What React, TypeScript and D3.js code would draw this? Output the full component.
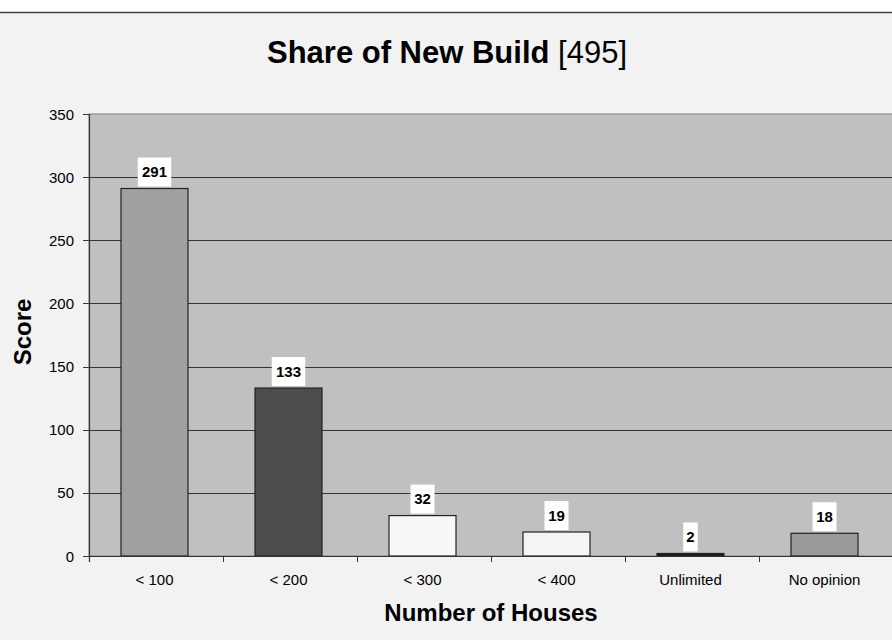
import React from "react";
import * as d3 from "d3";

const categories = ["< 100", "< 200", "< 300", "< 400", "Unlimited", "No opinion"];
const values = [291, 133, 32, 19, 2, 18];
const barColors = ["#a0a0a0", "#4d4d4d", "#f8f8f8", "#f4f4f4", "#1a1a1a", "#9a9a9a"];
const yTicks = [0, 50, 100, 150, 200, 250, 300, 350];

const W = 892, H = 640;
const left = 89, right = 893, top = 114, bottom = 556;

export default function App() {
  const x = d3.scaleBand<string>().domain(categories).range([left, right]).paddingInner(0.5).paddingOuter(0.25);
  const xb = d3.scaleBand<string>().domain(categories).range([left, right]);
  const y = d3.scaleLinear().domain([0, 350]).range([bottom, top]);
  const font = "Liberation Sans, Arial, sans-serif";
  return (
    <svg width={W} height={H} style={{ position: "absolute", left: 0, top: 0 }} fontFamily={font}>
      <rect x={0} y={0} width={W} height={H} fill="#ffffff" />
      <rect x={0} y={12} width={W} height={H - 12} fill="#f2f2f2" />
      <line x1={0} x2={W} y1={12.5} y2={12.5} stroke="#404040" strokeWidth={1.5} />
      <text x={447} y={63} textAnchor="middle" fontSize={31} fill="#000">
        <tspan fontWeight="bold">Share of New Build</tspan>
        <tspan> [495]</tspan>
      </text>
      <rect x={left} y={top} width={right - left} height={bottom - top} fill="#c0c0c0" stroke="#808080" strokeWidth={1} />
      {yTicks.map((t) => (
        <g key={t}>
          {t > 0 && t < 350 && <line x1={left} x2={right} y1={Math.round(y(t)) + 0.5} y2={Math.round(y(t)) + 0.5} stroke="#333" strokeWidth={1} />}
          <line x1={left - 6} x2={left} y1={Math.round(y(t)) + 0.5} y2={Math.round(y(t)) + 0.5} stroke="#333" />
          <text x={74} y={y(t) + 5.5} textAnchor="end" fontSize={15} fill="#000">{t}</text>
        </g>
      ))}
      {categories.map((c, i) => {
        const bx = x(c)! - 1.5;
        const bw = x.bandwidth();
        const by = y(values[i]);
        const cx = bx + bw / 2;
        const txt = String(values[i]);
        const boxW = txt.length * 9.5 + 5;
        return (
          <g key={c}>
            <rect x={bx} y={by} width={bw} height={bottom - by} fill={barColors[i]} stroke="#222" strokeWidth={1.2} />
            <rect x={cx - boxW / 2} y={by - 31} width={boxW} height={29} fill="#ffffff" />
            <text x={cx} y={by - 11.5} textAnchor="middle" fontSize={15} fontWeight="bold" fill="#000">{txt}</text>
            <text x={cx} y={585} textAnchor="middle" fontSize={15} fill="#000">{c}</text>
          </g>
        );
      })}
      <line x1={left + 0.5} x2={left + 0.5} y1={top} y2={bottom + 6} stroke="#333" strokeWidth={1.2} />
      <line x1={left} x2={right} y1={bottom + 0.5} y2={bottom + 0.5} stroke="#333" strokeWidth={1.2} />
      {categories.map((c) => (
        <line key={"t" + c} x1={Math.round(xb(c)!) + 0.5} x2={Math.round(xb(c)!) + 0.5} y1={bottom} y2={bottom + 6} stroke="#333" />
      ))}
      <text x={491} y={621} textAnchor="middle" fontSize={24} fontWeight="bold" fill="#000">Number of Houses</text>
      <text transform={`translate(31,332) rotate(-90)`} textAnchor="middle" fontSize={24} fontWeight="bold" fill="#000">Score</text>
    </svg>
  );
}
